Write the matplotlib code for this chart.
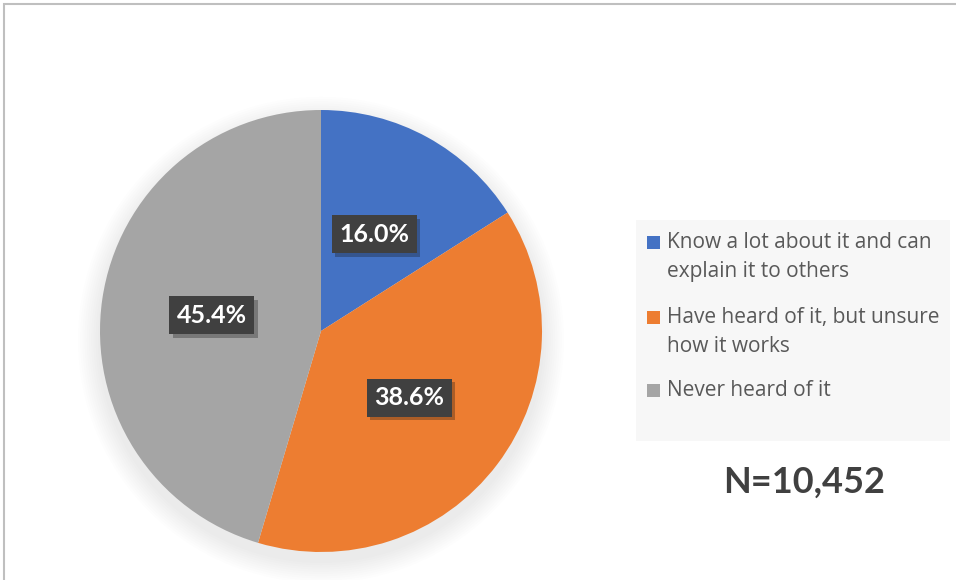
import numpy as np
import matplotlib
matplotlib.use("Agg")
import matplotlib.pyplot as plt
import matplotlib.patheffects as pe
from matplotlib.patches import Rectangle, Circle

plt.rcParams['font.family'] = ['Open Sans', 'DejaVu Sans']

# survey answers
categories = ['Know a lot about it and can\nexplain it to others',
              'Have heard of it, but unsure\nhow it works',
              'Never heard of it']
shares = [16.0, 38.6, 45.4]
colors = ['#4472C4', '#ED7D31', '#A5A5A5']
n_total = '10,452'

W, H = 956, 580
fig = plt.figure(figsize=(W / 100, H / 100), dpi=100)
fig.patch.set_facecolor('white')

# outer frame of the chart area
fig.add_artist(Rectangle((4 / W, -0.05), 1.1, 1 - 4 / H + 0.05,
                         transform=fig.transFigure, fill=False,
                         edgecolor='#bfbfbf', linewidth=1.5))

# pie axes: center (321, 331) px, radius 221 px
cx, cy, r = 321, 331, 221
ax = fig.add_axes([(cx - r) / W, (H - cy - r) / H, 2 * r / W, 2 * r / H])
ax.axis('off')

# soft shadow behind the pie
for k in range(10):
    rad = 1.0 + 0.01 * (k + 1)
    ax.add_patch(Circle((0, -0.04), rad, facecolor='#000000',
                        alpha=0.008, edgecolor='none', zorder=0,
                        clip_on=False))

wedges, _, autotexts = ax.pie(
    shares, colors=colors, startangle=90, counterclock=False,
    radius=1.0, pctdistance=0.5, autopct='%.1f%%',
    wedgeprops=dict(edgecolor='none', zorder=1),
    textprops=dict(color='white', fontsize=18, fontweight='bold',
                   family=['Lato', 'DejaVu Sans']))
ax.set_xlim(-1, 1)
ax.set_ylim(-1, 1)

for t in autotexts:
    t.set_bbox(dict(boxstyle='square,pad=0.3', facecolor='#404040',
                    edgecolor='none'))
    t.get_bbox_patch().set_path_effects(
        [pe.SimplePatchShadow(offset=(2.5, -2.5), alpha=0.3), pe.Normal()])
    t.set_zorder(5)

# legend panel
fig.add_artist(Rectangle((636 / W, 1 - 441 / H), (950 - 636) / W, (441 - 220) / H,
                         transform=fig.transFigure, facecolor='#f7f7f7',
                         edgecolor='none'))
line_y = [[242, 271], [317, 346], [390]]
for col, lab, ys in zip(colors, categories, line_y):
    y0 = ys[0]
    fig.add_artist(Rectangle((647 / W, 1 - (y0 + 7) / H), 13 / W, 13 / H,
                             transform=fig.transFigure, facecolor=col,
                             edgecolor='none'))
    for line, yy in zip(lab.split('\n'), ys):
        fig.text(667 / W, 1 - yy / H, line, ha='left', va='center',
                 fontsize=15, color='#595959')

fig.text(804 / W, 1 - 482 / H, 'N=' + n_total, ha='center', va='center',
         fontsize=26, fontweight='bold', color='#404040',
         family=['Lato', 'DejaVu Sans'])

fig.savefig('out.png', dpi=100)
